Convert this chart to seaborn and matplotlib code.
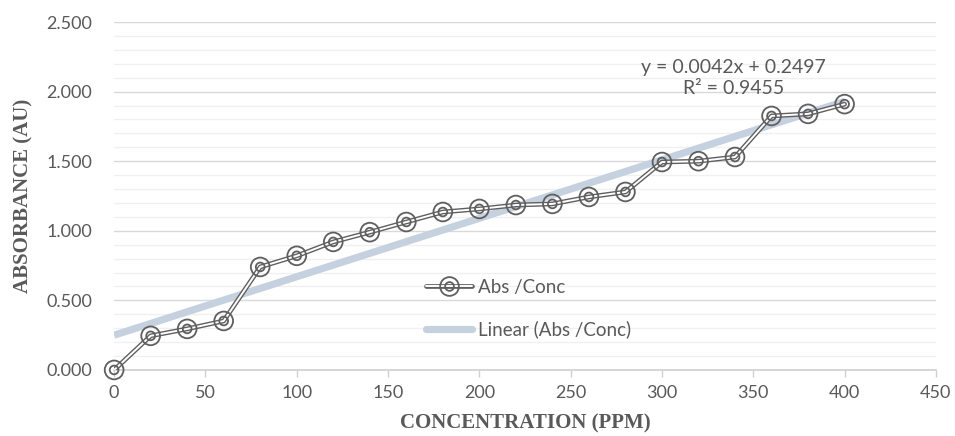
import numpy as np
import pandas as pd
import matplotlib
matplotlib.use("Agg")
import matplotlib.pyplot as plt
from matplotlib.lines import Line2D
from matplotlib.legend_handler import HandlerTuple
from matplotlib.ticker import MultipleLocator, FuncFormatter
import seaborn as sns

# ---- data ----
conc = [0, 20, 40, 60, 80, 100, 120, 140, 160, 180, 200, 220, 240, 260, 280, 300, 320, 340, 360, 380, 400]
absorb = [0.000, 0.245, 0.295, 0.352, 0.740, 0.820, 0.920, 0.990, 1.063, 1.135, 1.157, 1.185, 1.193, 1.243, 1.279, 1.494, 1.500, 1.530, 1.825, 1.840, 1.910]
slope = 0.0042
intercept = 0.2497
r2 = 0.9455
series_label = "Abs /Conc"
trend_label = "Linear (Abs /Conc)"
x_label = "CONCENTRATION (PPM)"
y_label = "ABSORBANCE (AU)"

df = pd.DataFrame({"conc": conc, "abs": absorb})
trend_x = [min(conc), max(conc)]
trend_df = pd.DataFrame({"conc": trend_x, "abs": [slope * v + intercept for v in trend_x]})

sns.set_theme(style="white")
plt.rcParams["font.family"] = ["Lato", "DejaVu Sans"]

DARK = "#5f5f5f"
TEXT = "#595959"
TREND = "#c6d1e0"
SERIF = ["Liberation Serif", "DejaVu Serif"]

fig = plt.figure(figsize=(9.55, 4.36), dpi=100)
ax = fig.add_axes([0.1195, 0.1515, 0.8605, 0.798])

# trendline
sns.lineplot(data=trend_df, x="conc", y="abs", ax=ax, color=TREND, linewidth=5.2,
             solid_capstyle="butt", zorder=2, legend=False)
# double (compound) line
sns.lineplot(data=df, x="conc", y="abs", ax=ax, color=DARK, linewidth=3.4, zorder=3, legend=False)
sns.lineplot(data=df, x="conc", y="abs", ax=ax, color="white", linewidth=1.4, zorder=4, legend=False)
# double-ring markers
for sz in (13.5, 6.3):
    sns.scatterplot(data=df, x="conc", y="abs", ax=ax, marker="o", s=sz ** 2, facecolors="none",
                    edgecolor=DARK, linewidth=1.3, zorder=5, legend=False, clip_on=False)

ax.set_xlim(0, 450)
ax.set_ylim(0, 2.5)
ax.xaxis.set_major_locator(MultipleLocator(50))
ax.yaxis.set_major_locator(MultipleLocator(0.5))
ax.yaxis.set_minor_locator(MultipleLocator(0.1))
ax.yaxis.set_major_formatter(FuncFormatter(lambda v, p: f"{v:.3f}"))

ax.grid(axis="y", which="major", color="#d9d9d9", linewidth=1.0, zorder=0)
ax.grid(axis="y", which="minor", color="#f0f0f0", linewidth=1.0, zorder=0)
ax.set_axisbelow(True)

for s in ["top", "right", "left"]:
    ax.spines[s].set_visible(False)
ax.spines["bottom"].set_color("#d0d0d0")
ax.spines["bottom"].set_linewidth(1.2)

ax.tick_params(axis="x", which="major", direction="out", length=5, width=1.0, color="#d0d0d0",
               labelsize=13, labelcolor=TEXT, pad=6, bottom=True)
ax.tick_params(axis="y", which="both", length=0, labelsize=13, labelcolor=TEXT, pad=16)

ax.set_xlabel(x_label, fontsize=15, fontweight="bold", color=TEXT, family=SERIF, labelpad=9)
ax.set_ylabel(y_label, fontsize=15, fontweight="bold", color=TEXT, family=SERIF, labelpad=9)

ax.text(339, 2.098, f"y = {slope}x + {intercept}\nR² = {r2}", ha="center", va="center",
        fontsize=14, color=TEXT, linespacing=1.3)

# legend
h_line_dark = Line2D([], [], color=DARK, linewidth=3.4)
h_line_white = Line2D([], [], color="white", linewidth=1.4)
h_m1 = Line2D([], [], linestyle="none", marker="o", markersize=13.5, markerfacecolor="none",
              markeredgecolor=DARK, markeredgewidth=1.3)
h_m2 = Line2D([], [], linestyle="none", marker="o", markersize=6.3, markerfacecolor="none",
              markeredgecolor=DARK, markeredgewidth=1.3)
h_trend = Line2D([], [], color=TREND, linewidth=5.2, solid_capstyle="round")
leg = ax.legend([(h_line_dark, h_line_white, h_m1, h_m2), h_trend], [series_label, trend_label],
                handler_map={tuple: HandlerTuple(ndivide=1)},
                loc="upper left", bbox_to_anchor=(0.379, 0.262), frameon=False,
                fontsize=13.5, labelspacing=1.3, handlelength=2.5, handletextpad=0.3,
                borderpad=0, borderaxespad=0, numpoints=1)
for t in leg.get_texts():
    t.set_color(TEXT)

fig.savefig("out.png", dpi=100)
